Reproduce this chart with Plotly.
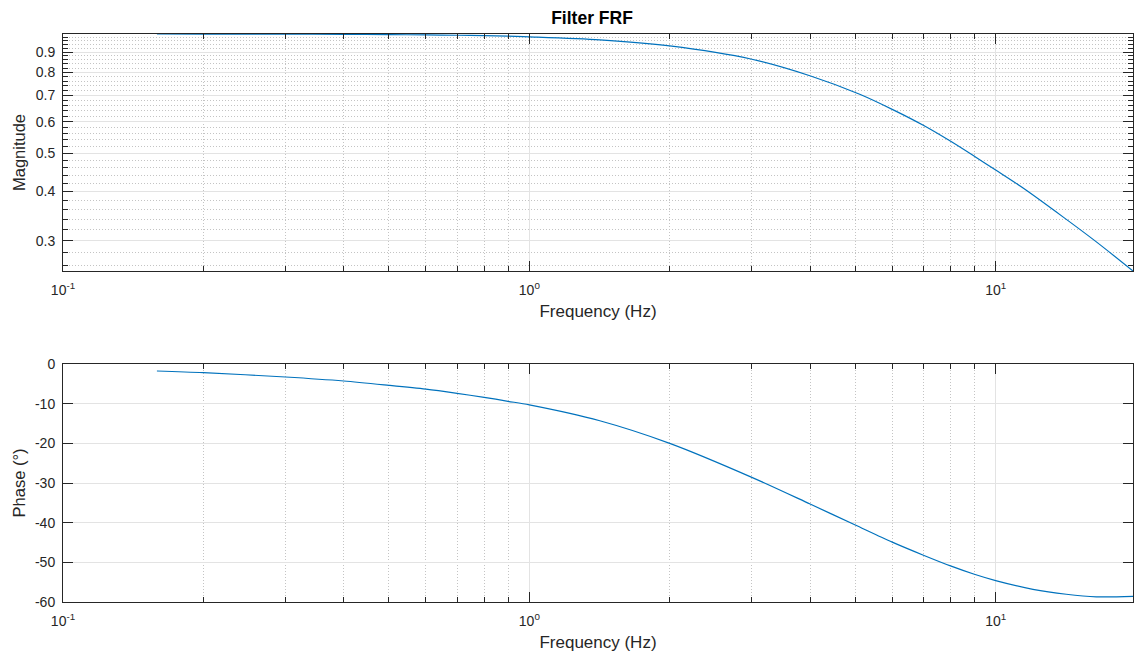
import math
import plotly.graph_objects as go

# ---- data ----
freq_mag = [0.159, 0.2, 0.3, 0.4, 0.5, 0.6, 0.7, 0.8, 0.9, 1.0, 1.416, 2.0, 3.0, 4.01,
            5.11, 6.03, 7.01, 8.04, 9.05, 10.0, 11.45, 13.94, 16.44, 19.7]
magnitude = [0.9996, 0.9994, 0.9985, 0.9975, 0.996, 0.9945, 0.9925, 0.990, 0.987, 0.983,
             0.966, 0.9325, 0.863, 0.783, 0.704, 0.643, 0.587, 0.534, 0.489, 0.453,
             0.408, 0.345, 0.2983, 0.2518]

freq_ph = [0.159, 0.2, 0.3, 0.4, 0.5, 0.6, 0.7, 0.8, 0.9, 1.0, 1.416, 2.0, 3.0, 4.0,
           5.0, 6.0, 7.0, 8.0, 9.0, 10.0, 12.02, 14.17, 16.44, 19.7]
phase_deg = [-1.76, -2.18, -3.28, -4.29, -5.38, -6.35, -7.4, -8.4, -9.4, -10.3,
             -14.3, -20.0, -28.57, -35.3, -40.6, -44.9, -48.2, -50.9, -53.0, -54.6,
             -56.8, -58.05, -58.7, -58.6]

x_major = [0.1, 1, 10]
x_major_text = ["10<sup>-1</sup>", "10<sup>0</sup>", "10<sup>1</sup>"]
x_minor = [0.2, 0.3, 0.4, 0.5, 0.6, 0.7, 0.8, 0.9, 2, 3, 4, 5, 6, 7, 8, 9]
mag_ticks = [0.3, 0.4, 0.5, 0.6, 0.7, 0.8, 0.9]
mag_ticktext = ["0.3", "0.4", "0.5", "0.6", "0.7", "0.8", "0.9"]
mag_minor = [0.26, 0.28, 0.32, 0.34, 0.36, 0.38, 0.42, 0.44, 0.46, 0.48,
             0.52, 0.54, 0.56, 0.58, 0.62, 0.64, 0.66, 0.68, 0.72, 0.74, 0.76, 0.78,
             0.82, 0.84, 0.86, 0.88, 0.92, 0.94, 0.96, 0.98]
phase_ticks = [-60, -50, -40, -30, -20, -10, 0]
phase_ticktext = ["-60", "-50", "-40", "-30", "-20", "-10", "0"]

x_range = [0.1, 19.7]
mag_range = [0.2518, 0.9996]
phase_range = [-60, 0]

LINE = "#0072BD"
AX = "#262626"
GRID = "#e3e3e3"
MINOR = "#c4c4c4"
FONT = "Liberation Sans, Arial, sans-serif"
DOT = "1px,2px"

fig = go.Figure()
fig.add_trace(go.Scatter(x=freq_mag, y=magnitude, mode="lines",
                         line=dict(color=LINE, width=1.2, shape="spline", smoothing=0.8),
                         xaxis="x", yaxis="y", showlegend=False))
fig.add_trace(go.Scatter(x=freq_ph, y=phase_deg, mode="lines",
                         line=dict(color=LINE, width=1.2, shape="spline", smoothing=0.8),
                         xaxis="x2", yaxis="y2", showlegend=False))


def xaxis(anchor):
    return dict(
        type="log", range=[math.log10(x_range[0]), math.log10(x_range[1])],
        anchor=anchor, domain=[0, 1],
        tickmode="array", tickvals=x_major, ticktext=x_major_text,
        ticks="inside", ticklen=10, tickcolor=AX, tickwidth=1,
        showline=True, linecolor=AX, linewidth=1, mirror="ticks",
        showgrid=True, gridcolor=GRID, gridwidth=1,
        minor=dict(tickmode="array", tickvals=x_minor, ticks="inside", ticklen=5, tickcolor=AX,
                   showgrid=True, gridcolor=MINOR, griddash=DOT, gridwidth=1),
        tickfont=dict(size=14, color=AX, family=FONT),
        ticklabelstandoff=6,
        title=dict(text="Frequency (Hz)", font=dict(size=17, color=AX, family=FONT), standoff=8),
        zeroline=False, automargin=False,
    )


def yaxis_common():
    return dict(
        ticks="inside", ticklen=10, tickcolor=AX, tickwidth=1,
        showline=True, linecolor=AX, linewidth=1, mirror="ticks",
        showgrid=True, gridcolor=GRID, gridwidth=1,
        tickfont=dict(size=14, color=AX, family=FONT),
        ticklabelstandoff=4,
        zeroline=False, automargin=False,
    )


fig.update_layout(
    width=1134, height=655,
    margin=dict(l=63, r=1, t=34, b=53),
    paper_bgcolor="white", plot_bgcolor="white",
    font=dict(family=FONT, color=AX),
    title=dict(text="<b>Filter FRF</b>", x=0.5 - 6 / 1070, xref="paper", xanchor="center",
               y=1 - 18 / 655, yref="container", yanchor="middle",
               font=dict(size=17.5, color="#000000", family=FONT)),
    xaxis=xaxis("y"),
    xaxis2=xaxis("y2"),
    yaxis=dict(
        type="log", range=[math.log10(mag_range[0]), math.log10(mag_range[1])],
        domain=[1 - 237 / 568, 1], anchor="x",
        tickmode="array", tickvals=mag_ticks, ticktext=mag_ticktext,
        minor=dict(tickmode="array", tickvals=mag_minor, ticks="inside", ticklen=5, tickcolor=AX,
                   showgrid=True, gridcolor=MINOR, griddash=DOT, gridwidth=1),
        title=dict(text="Magnitude", font=dict(size=16.5, color=AX, family=FONT), standoff=5),
        **yaxis_common(),
    ),
    yaxis2=dict(
        range=phase_range, domain=[0, 1 - 330 / 568], anchor="x2",
        tickmode="array", tickvals=phase_ticks, ticktext=phase_ticktext,
        title=dict(text="Phase (°)", font=dict(size=16.5, color=AX, family=FONT), standoff=5),
        **yaxis_common(),
    ),
)

fig.write_html("out.html", config={"displayModeBar": False},
               post_script="document.body.style.margin='0';")
